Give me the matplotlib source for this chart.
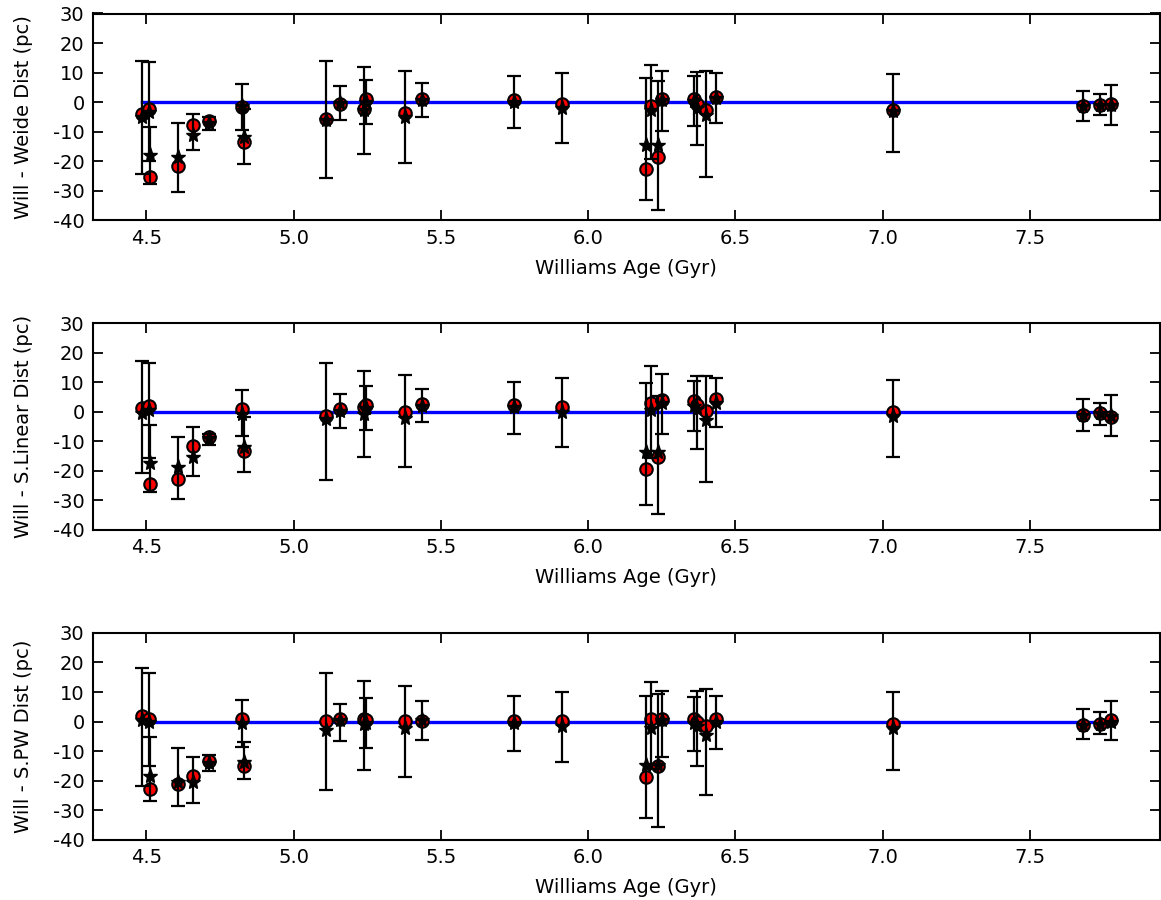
import matplotlib
matplotlib.use('Agg')
from matplotlib import pyplot as plt

plt.rcParams['axes.unicode_minus'] = False
plt.rcParams['font.family'] = ['DejaVu Sans']

# Williams ages (Gyr), same objects in all three panels
ages = [4.486, 4.509, 4.513, 4.608, 4.659, 4.712, 4.825, 4.830,
        5.110, 5.156, 5.240, 5.245, 5.379, 5.435, 5.747, 5.911,
        6.197, 6.215, 6.237, 6.250, 6.361, 6.369, 6.400, 6.435,
        7.035, 7.680, 7.740, 7.777]

# Will - Weide
weide_circ = [-3.9, -2.2, -25.3, -21.7, -7.8, -6.4, -1.6, -13.5,
              -5.8, -0.5, -2.2, 0.9, -3.6, 1.2, 0.6, -0.5,
              -22.5, -1.4, -18.6, 1.2, 1.2, -0.5, -2.7, 1.8,
              -2.7, -1.4, -1.0, -0.7]
weide_star = [-5.2, -3.2, -18.0, -18.6, -11.0, -7.2, -1.4, -11.8,
              -5.9, -0.4, -2.7, 0.0, -5.0, 0.8, 0.0, -2.0,
              -14.6, -2.8, -14.6, 0.6, 0.3, -2.0, -4.4, 1.3,
              -3.0, -1.4, -0.9, -0.9]
weide_lo = [-24.2, -20.0, -27.6, -30.4, -16.3, -9.3, -9.5, -21.1,
            -25.7, -6.1, -17.4, -7.5, -20.6, -5.0, -8.7, -13.8,
            -33.2, -19.1, -36.4, -9.9, -8.2, -14.6, -25.3, -7.0,
            -16.9, -6.4, -4.4, -7.6]
weide_hi = [13.8, 13.6, -8.4, -7.0, -4.1, -5.0, 6.0, -2.5,
            13.8, 5.3, 11.9, 7.4, 10.4, 6.5, 8.8, 9.7,
            8.2, 12.7, 7.2, 10.4, 8.8, 10.2, 10.4, 9.7,
            9.4, 3.8, 2.7, 5.9]

# Will - S.Linear
lin_circ = [1.2, 2.0, -24.5, -22.9, -11.6, -8.4, 0.9, -13.1,
            -1.4, 0.9, 1.7, 2.3, 0.1, 2.5, 2.3, 1.8,
            -19.5, 2.9, -15.2, 4.0, 3.5, 2.3, 0.3, 4.2,
            0.1, -1.0, -0.5, -1.6]
lin_star = [-0.5, 0.5, -17.4, -18.6, -15.2, -9.0, -0.7, -11.8,
            -2.5, 0.3, -0.8, 1.3, -2.2, 2.0, 1.5, 0.1,
            -13.5, 0.6, -13.5, 3.0, 2.0, 1.0, -2.7, 3.0,
            -1.4, -1.0, -0.5, -1.5]
lin_lo = [-20.6, -15.5, -27.0, -29.4, -21.6, -11.2, -8.2, -20.5,
          -23.1, -5.4, -15.4, -6.1, -18.6, -3.6, -7.5, -12.0,
          -31.7, -15.7, -34.7, -7.6, -6.4, -12.7, -23.6, -5.0,
          -15.4, -6.4, -4.4, -8.1]
lin_hi = [17.3, 16.4, -4.4, -8.4, -5.0, -7.5, 7.4, -1.8,
          16.7, 5.9, 13.8, 8.8, 12.5, 7.6, 10.2, 11.6,
          9.9, 15.5, 5.2, 12.7, 10.6, 12.1, 12.3, 11.6,
          10.8, 4.4, 3.1, 5.7]

# Will - S.PW
pw_circ = [1.8, 1.0, -22.9, -21.2, -18.6, -13.5, 0.9, -15.2,
           0.1, 0.9, 1.0, 0.5, 0.3, 0.3, 0.3, 0.1,
           -18.9, 0.9, -15.0, 1.0, 0.9, 0.0, -1.4, 0.9,
           -0.7, -1.0, -0.8, 0.6]
pw_star = [0.6, 0.0, -18.3, -20.3, -20.6, -14.1, -0.5, -13.8,
           -2.7, 0.5, -0.7, -0.5, -2.2, 0.5, -0.5, -1.6,
           -14.6, -2.2, -14.6, 0.5, -0.5, -1.6, -4.4, 0.0,
           -2.2, -1.0, -0.8, 0.0]
pw_lo = [-21.9, -15.0, -26.8, -28.5, -27.6, -16.9, -8.7, -19.3,
         -23.3, -6.7, -16.5, -9.0, -18.8, -6.4, -10.1, -13.8,
         -32.7, -16.0, -35.8, -12.0, -10.1, -15.2, -25.0, -9.3,
         -16.5, -5.8, -4.1, -6.1]
pw_hi = [18.1, 16.4, -5.3, -9.0, -12.1, -11.2, 7.4, -7.0,
         16.4, 5.9, 13.6, 8.0, 12.1, 6.9, 8.5, 9.9,
         8.5, 13.4, 9.3, 10.2, 8.3, 10.2, 11.0, 8.5,
         9.9, 4.2, 3.1, 6.9]

panels = [
    ('Will - Weide Dist (pc)', weide_circ, weide_star, weide_lo, weide_hi),
    ('Will - S.Linear Dist (pc)', lin_circ, lin_star, lin_lo, lin_hi),
    ('Will - S.PW Dist (pc)', pw_circ, pw_star, pw_lo, pw_hi),
]

fig = plt.figure(figsize=(11.61, 9), dpi=100)
fig.subplots_adjust(left=0.080, right=0.999, top=0.985, bottom=0.067, hspace=0.498)

for i, (ylab, circ, star, lo, hi) in enumerate(panels):
    ax = fig.add_subplot(3, 1, i + 1)
    # zero line from youngest to oldest object
    ax.plot([min(ages), max(ages)], [0, 0], c='b', lw=2.4, zorder=1)
    ax.plot(ages, circ, 'o', mfc='red', mec='black', mew=1.5, ms=9, zorder=2)
    yerr = [[s - l for s, l in zip(star, lo)], [h - s for s, h in zip(star, hi)]]
    ax.errorbar(ages, star, yerr=yerr, fmt='*', c='black', ms=11,
                ecolor='black', elinewidth=1.6, capsize=4.8, capthick=1.6, zorder=3)

    ax.set_xlim(4.318, 7.942)
    ax.set_ylim(-40, 30)
    ax.set_xticks([4.5, 5.0, 5.5, 6.0, 6.5, 7.0, 7.5])
    ax.set_yticks(range(-40, 31, 10))
    ax.set_xlabel('Williams Age (Gyr)', fontsize=14, labelpad=8)
    ax.set_ylabel(ylab, fontsize=14, labelpad=14)
    ax.tick_params(axis='both', which='major', labelsize=14, direction='in',
                   length=7, width=1.3, top=True, right=True, pad=6)
    for sp in ax.spines.values():
        sp.set_linewidth(1.5)

plt.savefig('out.png', dpi=100)
